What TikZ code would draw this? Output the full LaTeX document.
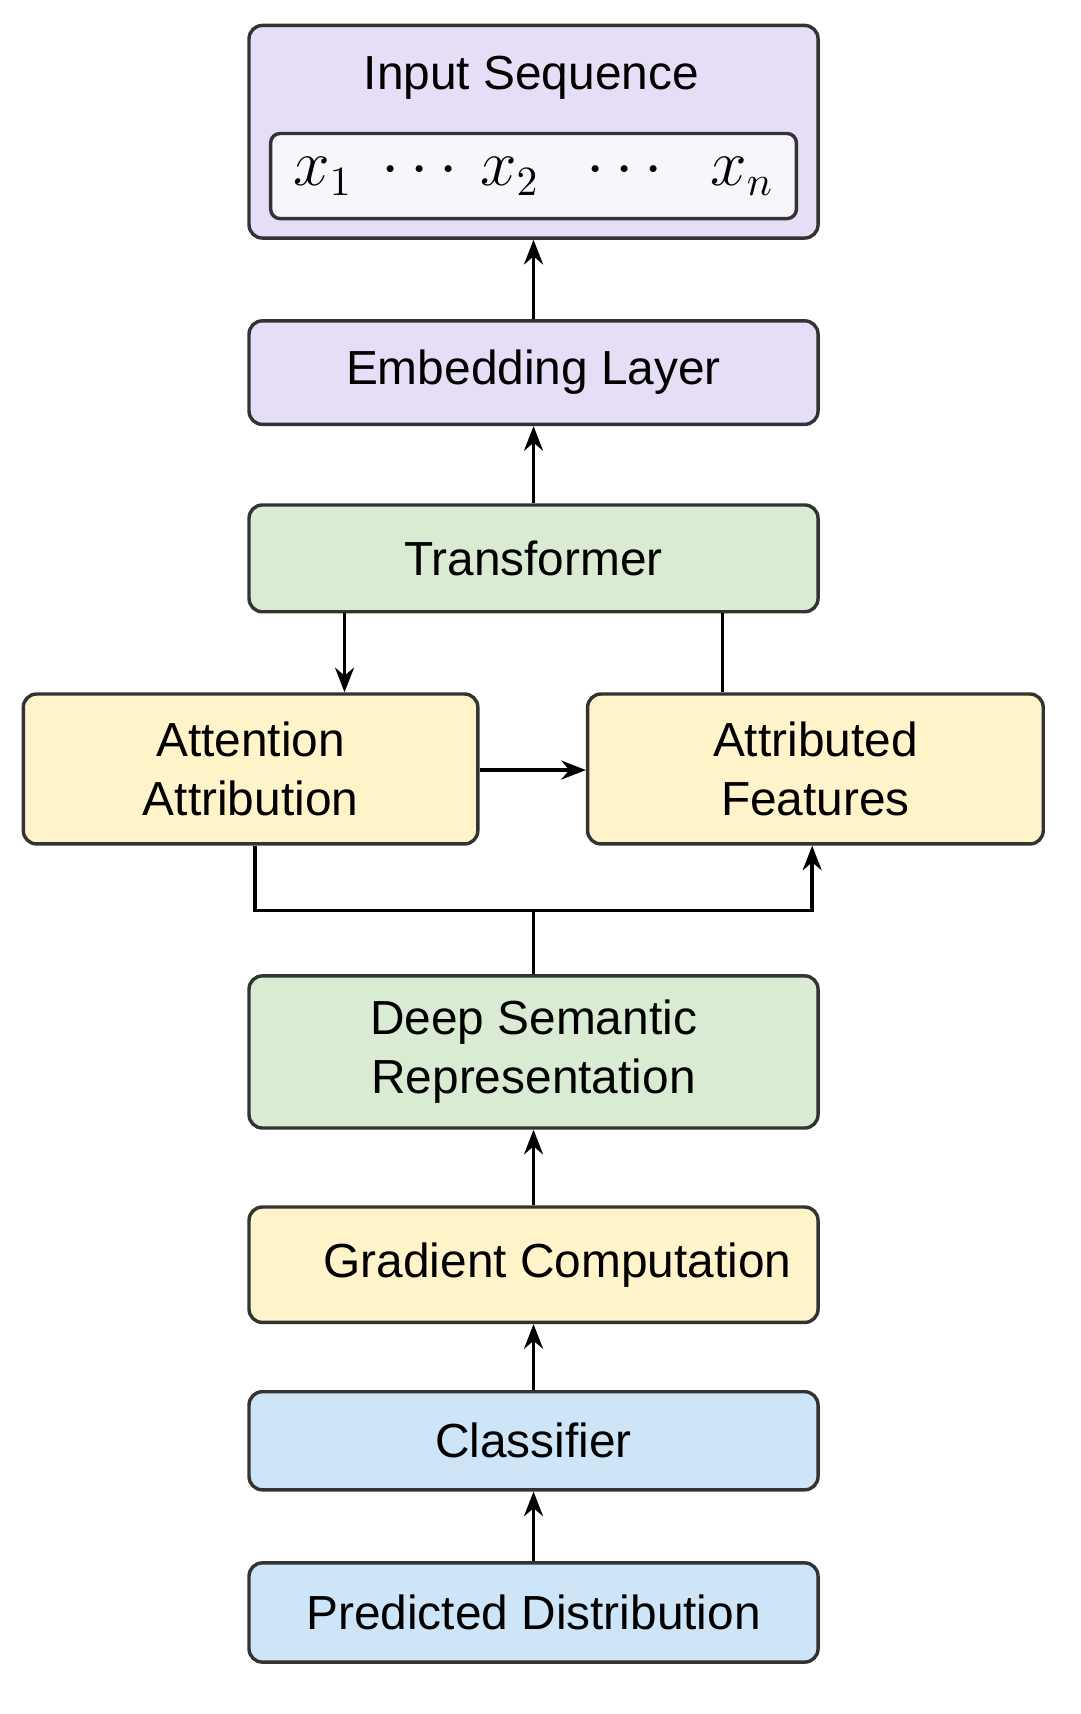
\documentclass[tikz,border=0pt]{standalone}
\usepackage{fontspec}
\setmainfont{Liberation Sans}
\usetikzlibrary{arrows.meta}
\definecolor{cpur}{HTML}{E6DEF6}
\definecolor{cgrn}{HTML}{D9EBD3}
\definecolor{cyel}{HTML}{FFF4C9}
\definecolor{cblu}{HTML}{CDE5F6}
\begin{document}
\begin{tikzpicture}[x=0.1mm,y=-0.1mm,
  box/.style={draw=black!80,line width=0.9pt,rounded corners=3.5pt,font=\fontsize{12.6}{15.5}\selectfont,align=center},
  pur/.style={fill=cpur},
  grn/.style={fill=cgrn},
  yel/.style={fill=cyel},
  blu/.style={fill=cblu},
  arr/.style={-{Stealth[length=6.5pt,width=5pt]},line width=0.9pt},
  ln/.style={line width=0.9pt}]
\useasboundingbox (0,0) rectangle (1000,1587);
\newcommand{\bx}[6]{\node[box,#6,minimum width=#3*0.1mm-0.9pt,minimum height=#4*0.1mm-0.9pt,inner sep=0pt] (#1) at (#2) {#5};}
\bx{inp}{494,122}{530}{200}{}{pur}
\node[font=\fontsize{12.6}{15}\selectfont] (inpt) at (492,72) {Input Sequence};
\node[draw=black!80,line width=0.9pt,rounded corners=2.5pt,fill=cpur!30!white,inner sep=0pt,minimum width=490*0.1mm-0.9pt,minimum height=82*0.1mm-0.9pt] (seq) at (494,163) {\fontsize{16}{18}\selectfont$x_1\;\cdots\,x_2\;\;\cdots\;\; x_n$};
\bx{emb}{494,345}{530}{99}{Embedding Layer}{pur}
\bx{tr}{494,517}{530}{102}{Transformer}{grn}
\bx{att}{232,712}{424}{142}{Attention\\Attribution}{yel}
\bx{feat}{755,712}{425}{142}{Attributed\\Features}{yel}
\bx{deep}{494,974}{530}{144}{Deep Semantic\\Representation}{grn}
\bx{grad}{494,1171}{530}{110}{\hspace*{1em}Gradient Computation}{yel}
\bx{cls}{494,1334}{530}{94}{Classifier}{blu}
\bx{pred}{494,1493}{530}{95}{Predicted Distribution}{blu}
\coordinate (j) at (494,843);
\draw[arr] (emb.north) -- (inp.south);
\draw[arr] (tr.north) -- (emb.south);
\draw[arr] (tr.south -| 319,0) -- (att.north -| 319,0);
\draw[ln] (feat.north -| 669,0) -- (tr.south -| 669,0);
\draw[arr] (att.east |- 0,713) -- (feat.west |- 0,713);
\draw[ln] (att.south -| 236,0) |- (j) -- (deep.north);
\draw[arr] (j) -| (feat.south -| 752,0);
\draw[arr] (grad.north) -- (deep.south);
\draw[arr] (cls.north) -- (grad.south);
\draw[arr] (pred.north) -- (cls.south);
\end{tikzpicture}
\end{document}
